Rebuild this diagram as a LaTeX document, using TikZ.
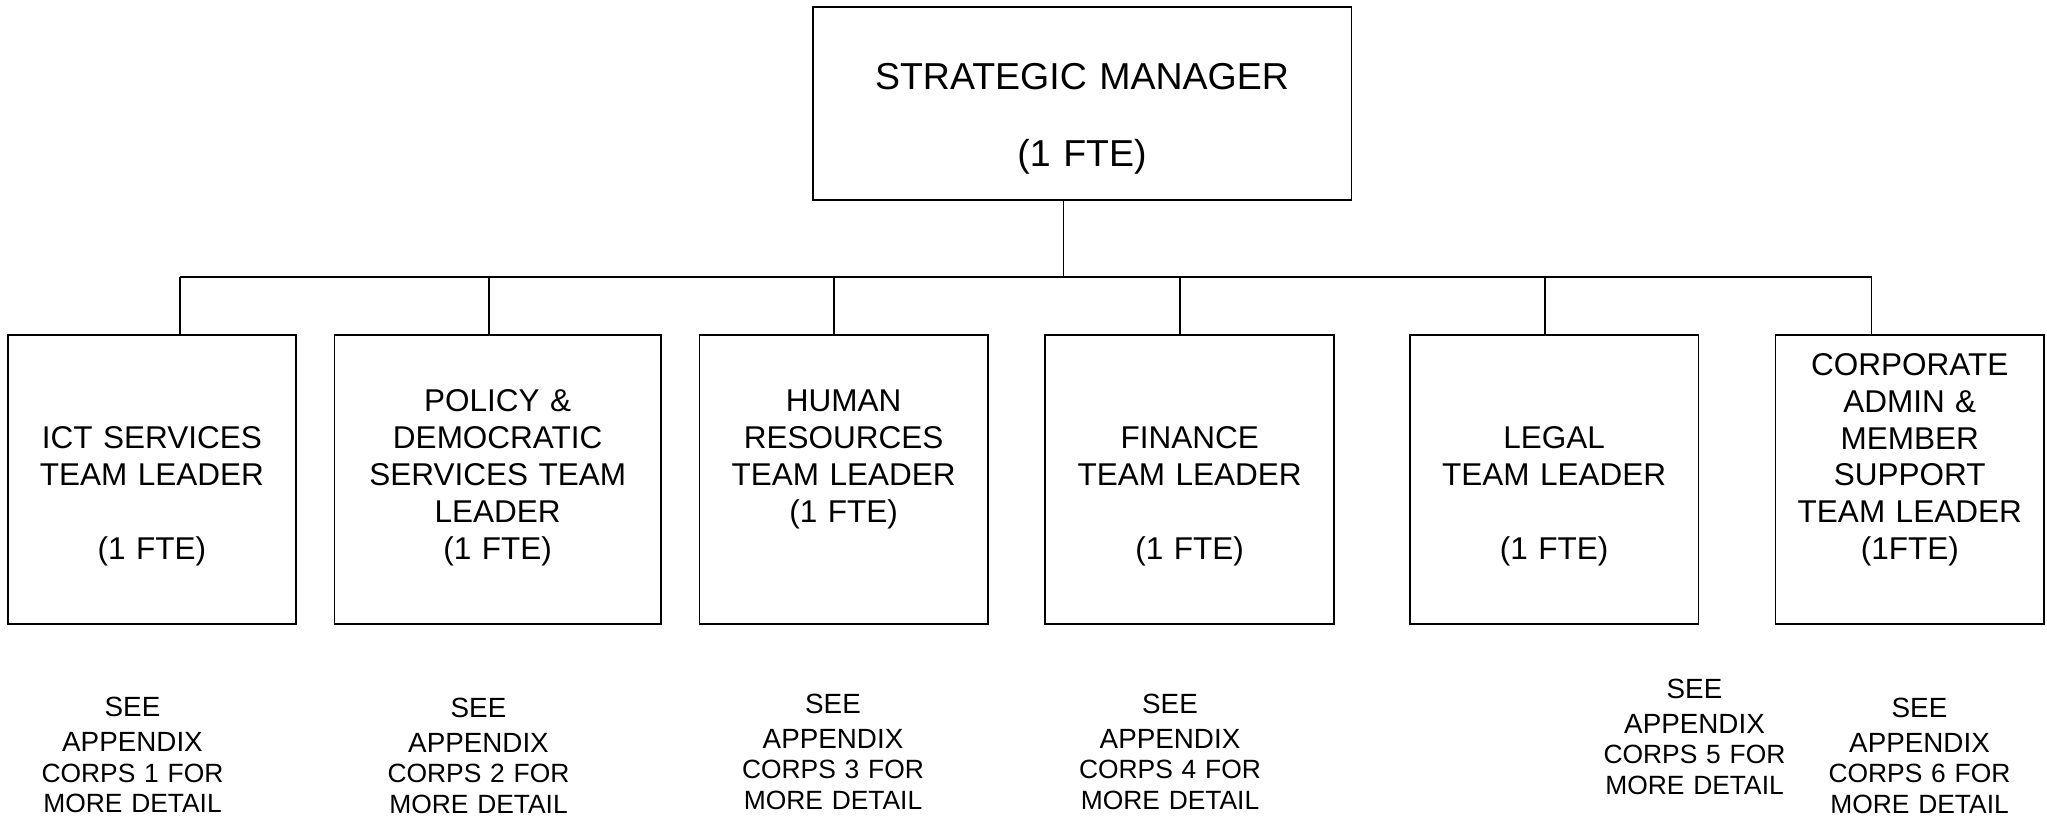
\documentclass[tikz,border=0pt]{standalone}
\usepackage{fontspec}
\setmainfont{Liberation Sans}
\newcommand\seeline[1]{{\fontsize{13.9pt}{15.25pt}\selectfont #1}}
\tikzset{
  box/.style={draw, line width=0.9pt, inner sep=0pt, outer sep=0pt},
  link/.style={line width=0.9pt},
  lbl/.style={anchor=base, inner sep=0pt, outer sep=0pt, text width=220pt, align=center,
    font=\fontsize{15.75pt}{18.4pt}\selectfont},
  toplbl/.style={anchor=base, inner sep=0pt, outer sep=0pt, text width=260pt, align=center,
    font=\fontsize{18.75pt}{22.5pt}\selectfont},
  note/.style={anchor=base, inner sep=0pt, outer sep=0pt, text width=150pt, align=center,
    font=\fontsize{13.2pt}{15.25pt}\selectfont},
}
\begin{document}
\begin{tikzpicture}[x=0.5pt,y=-0.5pt]
\useasboundingbox (0,0) rectangle (2047,818);
% boxes
\node[box, minimum width=269.25pt, minimum height=96.35pt] (top) at (1082.25,103.65) {};
\node[box, minimum width=144.1pt, minimum height=144.5pt] (b1) at (151.9,479.5) {};
\node[box, minimum width=163.3pt, minimum height=144.5pt] (b2) at (497.7,479.5) {};
\node[box, minimum width=144.05pt, minimum height=144.5pt] (b3) at (843.55,479.5) {};
\node[box, minimum width=144.35pt, minimum height=144.5pt] (b4) at (1189.65,479.5) {};
\node[box, minimum width=144.2pt, minimum height=144.5pt] (b5) at (1554.2,479.5) {};
\node[box, minimum width=134.25pt, minimum height=144.5pt] (b6) at (1909.75,479.5) {};
% texts in boxes
\node[toplbl] (t0) at (1082,90) {STRATEGIC MANAGER\\[16pt](1 FTE)};
\node[lbl] (t1) at (151.9,449) {ICT SERVICES\\TEAM LEADER\\[18.4pt](1 FTE)};
\node[lbl] (t2) at (497.7,412) {POLICY \&\\DEMOCRATIC\\SERVICES TEAM\\LEADER\\(1 FTE)};
\node[lbl] (t3) at (843.55,412) {HUMAN\\RESOURCES\\TEAM LEADER\\(1 FTE)};
\node[lbl] (t4) at (1189.65,449) {FINANCE\\TEAM LEADER\\[18.4pt](1 FTE)};
\node[lbl] (t5) at (1554.2,449) {LEGAL\\TEAM LEADER\\[18.4pt](1 FTE)};
\node[lbl] (t6) at (1909.75,375.5) {CORPORATE\\ADMIN \&\\MEMBER\\SUPPORT\\TEAM LEADER\\(1FTE)};
% connectors
\coordinate (tb) at (1063.5,277);
\coordinate (s1) at (179.6,277);
\coordinate (s2) at (488.6,277);
\coordinate (s3) at (834,277);
\coordinate (s4) at (1179.8,277);
\coordinate (s5) at (1545,277);
\coordinate (s6) at (1871.5,277);
\draw[link] (top.south -| tb) -- (tb);
\draw[link] (s1) -- (s6);
\draw[link] (s1) -- (s1 |- b1.north);
\draw[link] (s2) -- (s2 |- b2.north);
\draw[link] (s3) -- (s3 |- b3.north);
\draw[link] (s4) -- (s4 |- b4.north);
\draw[link] (s5) -- (s5 |- b5.north);
\draw[link] (s6) -- (s6 |- b6.north);
% notes
\node[note] (n1) at (132.5,716.7) {\seeline{SEE}\\[2.25pt]\seeline{APPENDIX}\\CORPS 1 FOR\\MORE DETAIL};
\node[note] (n2) at (478.5,717) {\seeline{SEE}\\[2.25pt]\seeline{APPENDIX}\\CORPS 2 FOR\\MORE DETAIL};
\node[note] (n3) at (833,713) {\seeline{SEE}\\[2.25pt]\seeline{APPENDIX}\\CORPS 3 FOR\\MORE DETAIL};
\node[note] (n4) at (1170,713) {\seeline{SEE}\\[2.25pt]\seeline{APPENDIX}\\CORPS 4 FOR\\MORE DETAIL};
\node[note] (n5) at (1694.5,698.3) {\seeline{SEE}\\[2.25pt]\seeline{APPENDIX}\\CORPS 5 FOR\\MORE DETAIL};
\node[note] (n6) at (1919.5,717.3) {\seeline{SEE}\\[2.25pt]\seeline{APPENDIX}\\CORPS 6 FOR\\MORE DETAIL};
\end{tikzpicture}
\end{document}
